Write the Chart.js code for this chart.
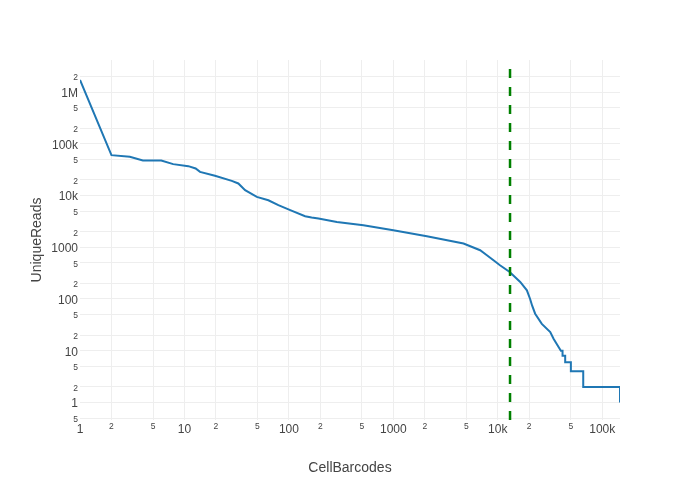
<!DOCTYPE html>
<html>
<head>
<meta charset="utf-8">
<script src="https://cdn.jsdelivr.net/npm/chart.js@4"></script>
<style>
  html, body { margin: 0; padding: 0; background: #fff; }
  canvas { display: block; }
</style>
</head>
<body>
<canvas id="rankChart" width="700" height="500"></canvas>
<script>
// barcode rank vs unique reads
const barcodeRanks = [1, 2, 3, 4, 6, 7.8, 10.9, 12.8, 14.1, 19.6, 28.4, 32.8, 38.1, 49.3, 63.6, 79.3,
  103, 143, 165, 192, 288, 517, 1000, 2094, 4700, 6780, 7870, 9100, 10500, 13000, 16400, 19000, 20400, 21300,
  22800, 26400, 31800, 34200, 38200, 40200, 41700, 41700, 44200, 44200, 50100, 50100,
  65800, 65800, 148000, 148000];
const uniqueReads = [1710000, 60300, 56000, 47600, 47600, 40400, 36900, 33300, 28600, 24000, 19200, 17100, 12700, 9400, 8100, 6500,
  5200, 3980, 3750, 3590, 3090, 2670, 2130, 1630, 1180, 875, 700, 560, 448, 333, 213, 147, 100, 75,
  52, 33, 23, 17, 11.8, 10, 10, 8, 8, 6, 6, 4,
  4, 2, 2, 1];
const cutoffRank = 13100;

const xRange = [1, 148000];
const yRange = [0.458, 4160000];

const xTickValues = [1, 2, 5, 10, 20, 50, 100, 200, 500, 1000, 2000, 5000, 10000, 20000, 50000, 100000];
const xTickLabels = ["1", "2", "5", "10", "2", "5", "100", "2", "5", "1000", "2", "5", "10k", "2", "5", "100k"];
const yTickValues = [0.5, 1, 2, 5, 10, 20, 50, 100, 200, 500, 1000, 2000, 5000, 10000, 20000, 50000,
  100000, 200000, 500000, 1000000, 2000000];
const yTickLabels = ["5", "1", "2", "5", "10", "2", "5", "100", "2", "5", "1000", "2", "5", "10k", "2", "5",
  "100k", "2", "5", "1M", "2"];

const curvePoints = barcodeRanks.map((r, i) => ({ x: r, y: uniqueReads[i] }));

function isDecade(v) {
    const l = Math.log10(v);
    return Math.abs(l - Math.round(l)) < 1e-9;
}

function tickFont(ctx) {
    const v = ctx.tick ? ctx.tick.value : 1;
    return isDecade(v) ? { size: 12 } : { size: 8.5 };
}

Chart.defaults.font.family = '"Liberation Sans", Arial, sans-serif';
Chart.defaults.color = "#444";

new Chart(document.getElementById("rankChart"), {
    type: "line",
    data: {
        datasets: [
            {
                label: "cutoff",
                data: [{ x: cutoffRank, y: yRange[0] }, { x: cutoffRank, y: yRange[1] }],
                borderColor: "#008000",
                borderWidth: 2.5,
                borderDash: [9, 9],
                pointRadius: 0,
                order: 0
            },
            {
                label: "UniqueReads",
                data: curvePoints,
                borderColor: "#1f77b4",
                borderWidth: 2,
                pointRadius: 0,
                tension: 0,
                order: 1
            }
        ]
    },
    options: {
        responsive: false,
        animation: false,
        layout: { padding: { top: 60, right: 80, left: 0, bottom: 0 } },
        plugins: { legend: { display: false }, tooltip: { enabled: false } },
        scales: {
            x: {
                type: "logarithmic",
                min: xRange[0],
                max: xRange[1],
                afterBuildTicks: s => { s.ticks = xTickValues.map(v => ({ value: v })); },
                afterFit: s => { s.height = 80; },
                ticks: {
                    autoSkip: false,
                    maxRotation: 0,
                    padding: 2,
                    font: tickFont,
                    callback: v => xTickLabels[xTickValues.indexOf(v)]
                },
                grid: {
                    color: ctx => (ctx.tick && ctx.tick.value === 1) ? "rgba(0,0,0,0)" : "#eee",
                    lineWidth: 1,
                    drawTicks: false
                },
                border: { display: false },
                title: {
                    display: true,
                    text: "CellBarcodes",
                    font: { size: 14 },
                    color: "#444",
                    padding: { top: 0, bottom: 23.6 }
                }
            },
            y: {
                type: "logarithmic",
                min: yRange[0],
                max: yRange[1],
                afterBuildTicks: s => { s.ticks = yTickValues.map(v => ({ value: v })); },
                afterFit: s => { s.width = 80; },
                ticks: {
                    autoSkip: false,
                    padding: 2,
                    labelOffset: 1.5,
                    font: tickFont,
                    callback: v => yTickLabels[yTickValues.indexOf(v)]
                },
                grid: { color: "#eee", lineWidth: 1, drawTicks: false },
                border: { display: false },
                title: {
                    display: true,
                    text: "UniqueReads",
                    font: { size: 14 },
                    color: "#444",
                    padding: { top: 29, bottom: 0 }
                }
            }
        }
    }
});
</script>
</body>
</html>
